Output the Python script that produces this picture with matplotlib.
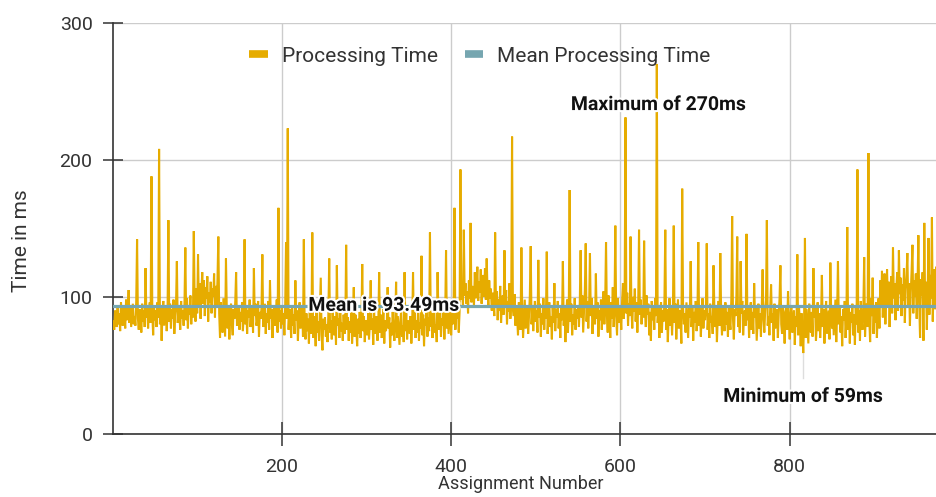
#!/usr/bin/env python3
"""Processing time per assignment, with mean line and min/max annotations."""

import matplotlib

matplotlib.use("Agg")
import matplotlib.pyplot as plt  # noqa: E402
import matplotlib.patheffects as pe  # noqa: E402
import numpy as np  # noqa: E402

# processing time (ms) per assignment, assignments 1..975
times_001_250 = [
    82, 76, 90, 85, 78, 94, 80, 88, 75, 96, 84, 79, 92, 86, 77, 98, 83, 89, 105, 81, 93, 78, 87, 95, 80,
    86, 79, 97, 142, 84, 76, 91, 88, 74, 95, 82, 90, 78, 121, 85, 93, 77, 89, 96, 81, 188, 87, 72, 94, 83,
    90, 78, 96, 85, 208, 80, 92, 68, 88, 97, 79, 86, 93, 75, 89, 156, 82, 95, 77, 91, 84, 98, 73, 87, 94,
    126, 81, 93, 86, 76, 97, 84, 90, 79, 95, 136, 83, 99, 77, 92, 87, 101, 80, 94, 85, 148, 98, 82, 106, 88,
    131, 92, 110, 84, 104, 118, 95, 112, 86, 107, 99, 115, 82, 103, 96, 111, 88, 106, 100, 117, 85, 108, 93, 113, 144,
    88, 70, 96, 82, 74, 99, 85, 71, 128, 90, 77, 93, 69, 86, 95, 80, 72, 91, 84, 97, 118, 79, 88, 94, 76,
    89, 82, 96, 75, 87, 142, 80, 93, 73, 90, 85, 98, 78, 88, 92, 74, 121, 86, 95, 79, 83, 97, 71, 89, 84,
    92, 131, 78, 86, 95, 73, 88, 81, 97, 76, 112, 84, 91, 70, 87, 94, 79, 85, 98, 74, 165, 82, 90, 77, 93,
    80, 88, 72, 95, 140, 84, 223, 76, 91, 86, 70, 94, 79, 87, 73, 112, 83, 90, 68, 85, 96, 77, 81, 92, 71,
    142, 78, 69, 88, 75, 84, 66, 90, 73, 81, 147, 70, 86, 77, 64, 89, 74, 82, 68, 91, 114, 72, 61, 84, 76,
]
times_251_500 = [
    85, 71, 80, 67, 88, 128, 74, 83, 69, 90, 77, 72, 86, 65, 123, 79, 84, 70, 92, 75, 81, 68, 87, 73, 79,
    138, 76, 85, 68, 82, 74, 90, 66, 80, 107, 71, 87, 77, 64, 84, 73, 89, 70, 81, 124, 75, 86, 67, 83, 78,
    72, 88, 69, 80, 112, 76, 84, 65, 90, 73, 79, 86, 68, 82, 118, 74, 87, 70, 78, 91, 66, 83, 75, 80, 107,
    77, 85, 63, 81, 72, 89, 74, 68, 84, 111, 70, 86, 76, 65, 82, 90, 71, 79, 67, 118, 75, 88, 69, 83, 78,
    73, 86, 66, 80, 118, 76, 89, 70, 83, 74, 91, 68, 81, 77, 130, 72, 87, 64, 84, 79, 92, 71, 85, 75, 147,
    78, 88, 70, 83, 92, 74, 80, 67, 118, 86, 76, 93, 71, 84, 79, 95, 69, 87, 134, 77, 90, 73, 85, 96, 72,
    88, 80, 94, 165, 76, 91, 84, 97, 74, 89, 193, 98, 106, 92, 149, 101, 110, 95, 104, 88, 112, 99, 154, 96, 108,
    102, 94, 118, 99, 107, 122, 97, 111, 103, 120, 95, 109, 116, 100, 121, 98, 128, 105, 93, 112, 99, 106, 90, 103, 96,
    86, 147, 92, 104, 83, 98, 90, 108, 81, 95, 101, 87, 134, 93, 105, 80, 97, 89, 110, 84, 99, 217, 91, 86, 102,
    79, 93, 85, 72, 96, 88, 76, 136, 91, 70, 84, 98, 77, 89, 94, 73, 86, 101, 137, 80, 92, 75, 87, 97, 82,
]
times_501_750 = [
    90, 74, 127, 85, 95, 71, 88, 80, 99, 76, 92, 84, 133, 73, 89, 96, 78, 86, 69, 93, 81, 110, 75, 91, 85,
    97, 77, 88, 70, 94, 83, 126, 79, 92, 67, 86, 98, 74, 89, 178, 82, 95, 72, 87, 80, 99, 76, 91, 84, 93,
    78, 96, 134, 85, 101, 74, 90, 105, 139, 82, 97, 77, 92, 132, 86, 99, 73, 88, 94, 80, 117, 84, 96, 71, 90,
    83, 98, 76, 92, 104, 80, 95, 140, 87, 74, 101, 90, 70, 96, 84, 107, 78, 93, 152, 86, 72, 99, 81, 94, 88,
    76, 97, 110, 84, 99, 231, 88, 103, 79, 95, 86, 144, 92, 77, 100, 89, 106, 82, 96, 74, 93, 149, 87, 98, 80,
    94, 85, 141, 90, 78, 101, 87, 95, 72, 89, 68, 97, 83, 92, 76, 99, 86, 270, 81, 94, 70, 88, 96, 74, 90,
    82, 97, 149, 76, 91, 67, 86, 99, 79, 93, 72, 88, 152, 81, 95, 69, 87, 98, 77, 90, 84, 66, 179, 92, 80,
    88, 74, 96, 83, 70, 92, 85, 126, 78, 94, 68, 89, 81, 97, 75, 87, 140, 79, 93, 71, 86, 99, 77, 90, 83,
    92, 139, 76, 88, 70, 95, 81, 86, 73, 123, 90, 78, 94, 67, 85, 97, 79, 132, 88, 72, 93, 83, 75, 96, 80,
    89, 71, 94, 82, 76, 98, 159, 84, 69, 91, 86, 100, 144, 78, 93, 74, 126, 88, 97, 72, 85, 90, 79, 146, 83,
]
times_751_975 = [
    94, 70, 87, 96, 76, 89, 73, 110, 85, 92, 68, 81, 95, 77, 88, 71, 93, 120, 84, 74, 90, 97, 156, 79, 86,
    72, 93, 109, 81, 88, 68, 95, 77, 85, 91, 70, 87, 99, 123, 80, 73, 94, 84, 66, 89, 92, 76, 104, 83, 69,
    87, 94, 74, 81, 90, 65, 86, 78, 131, 72, 92, 83, 64, 88, 76, 59, 84, 143, 70, 91, 79, 66, 95, 82, 74,
    89, 71, 121, 85, 93, 68, 80, 96, 75, 88, 70, 84, 116, 78, 91, 66, 86, 97, 73, 82, 90, 69, 125, 87, 77,
    94, 72, 85, 98, 67, 88, 126, 80, 93, 74, 86, 64, 91, 83, 97, 70, 85, 151, 76, 92, 66, 89, 81, 95, 72,
    87, 65, 93, 80, 193, 74, 90, 68, 97, 83, 76, 92, 129, 71, 88, 95, 78, 205, 84, 67, 99, 86, 114, 73, 94,
    81, 96, 70, 89, 99, 77, 112, 92, 119, 85, 108, 117, 80, 104, 120, 94, 111, 78, 106, 115, 88, 136, 99, 110, 83,
    107, 118, 90, 134, 102, 114, 86, 109, 97, 121, 81, 105, 116, 132, 93, 110, 79, 103, 119, 138, 88, 112, 100, 117, 84,
    108, 145, 95, 70, 113, 101, 118, 68, 154, 92, 111, 76, 105, 143, 87, 116, 99, 158, 82, 110, 120, 91, 122, 104, 113,
]
mean_time = 93.49
max_time = 270
min_time = 59
max_assignment = 643
min_assignment = 816

x_ticks = [200, 400, 600, 800]
y_ticks = [0, 100, 200, 300]

LINE_COLOR = "#e6ac00"
MEAN_COLOR = "#76a6b0"
TEXT_COLOR = "#333333"
GRID_COLOR = "#cccccc"

plt.rcParams["font.family"] = ["Roboto", "DejaVu Sans"]


def main() -> None:
    times = np.array(times_001_250 + times_251_500 + times_501_750 + times_751_975, dtype=float)
    assignments = np.arange(1, len(times) + 1)

    fig = plt.figure(figsize=(9.37, 4.97), dpi=100)
    ax = fig.add_axes([0.121, 0.127, 0.879, 0.827])

    ax.plot(assignments, times, color=LINE_COLOR, linewidth=1.5, solid_joinstyle="miter",
            label="Processing Time", zorder=3)
    ax.plot(assignments, np.full(len(times), mean_time), color=MEAN_COLOR, linewidth=2.3,
            label="Mean Processing Time", zorder=4)

    ax.set_xlim(1, 974)
    ax.set_ylim(0, 300)
    ax.set_xticks(x_ticks)
    ax.set_yticks(y_ticks)
    ax.grid(True, color=GRID_COLOR, linewidth=1.0, zorder=0)
    ax.set_axisbelow(True)
    ax.spines[["top", "right"]].set_visible(False)
    for side in ["left", "bottom"]:
        ax.spines[side].set_color(TEXT_COLOR)
        ax.spines[side].set_linewidth(1.2)
    ax.tick_params(axis="x", direction="inout", length=17, width=1.1, color=TEXT_COLOR,
                   labelsize=14, labelcolor=TEXT_COLOR, pad=9)
    ax.tick_params(axis="y", direction="inout", length=14, width=1.1, color=TEXT_COLOR,
                   labelsize=14, labelcolor=TEXT_COLOR, pad=8)

    ax.set_xlabel("Assignment Number", fontsize=13, color=TEXT_COLOR)
    ax.xaxis.set_label_coords(0.495, -0.1)
    ax.set_ylabel("Time in ms", fontsize=15, color=TEXT_COLOR)
    ax.yaxis.set_label_coords(-0.1, 0.47)

    halo = [pe.withStroke(linewidth=3, foreground="white")]
    ax.text(321, mean_time, f"Mean is {mean_time:.2f}ms", fontsize=14, fontweight="bold",
            color="#111111", ha="center", va="center", path_effects=halo, zorder=6)
    ax.text(max_assignment + 2, 240, f"Maximum of {max_time}ms", fontsize=14, fontweight="bold",
            color="#111111", ha="center", va="center", path_effects=halo, zorder=6)
    ax.plot([min_assignment, min_assignment], [min_time, 41], color="#dddddd", linewidth=1, zorder=2)
    ax.text(min_assignment, 27, f"Minimum of {min_time}ms", fontsize=14, fontweight="bold",
            color="#111111", ha="center", va="center", path_effects=halo, zorder=6)

    handles, labels = ax.get_legend_handles_labels()
    leg = fig.legend(handles, labels, loc="center", bbox_to_anchor=(0.512, 0.887), ncols=2,
                     frameon=False, fontsize=15, handlelength=0.9, handletextpad=0.65,
                     columnspacing=1.3, labelcolor=TEXT_COLOR)
    for line in leg.get_lines():
        line.set_linewidth(5.5)
        line.set_solid_capstyle("butt")

    fig.savefig("out.png", dpi=100)
    plt.close(fig)


if __name__ == "__main__":
    main()
